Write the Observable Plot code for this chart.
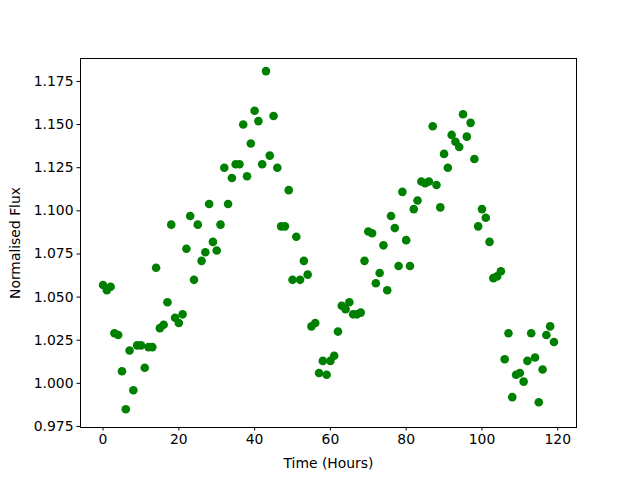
<!DOCTYPE html>
<html>
<head>
<meta charset="utf-8">
<script src="https://cdn.jsdelivr.net/npm/d3@7"></script>
<script src="https://cdn.jsdelivr.net/npm/@observablehq/plot@0.6"></script>
<style>
  html, body { margin: 0; padding: 0; background: white; }
</style>
</head>
<body>
<div id="chart"></div>
<script>
const hours = d3.range(0, 120);
const flux = [
  1.057, 1.054, 1.056, 1.029, 1.028, 1.007, 0.985, 1.019, 0.996, 1.022,
  1.022, 1.009, 1.021, 1.021, 1.067, 1.032, 1.034, 1.047, 1.092, 1.038,
  1.035, 1.040, 1.078, 1.097, 1.060, 1.092, 1.071, 1.076, 1.104, 1.082,
  1.077, 1.092, 1.125, 1.104, 1.119, 1.127, 1.127, 1.150, 1.120, 1.139,
  1.158, 1.152, 1.127, 1.181, 1.132, 1.155, 1.125, 1.091, 1.091, 1.112,
  1.060, 1.085, 1.060, 1.071, 1.063, 1.033, 1.035, 1.006, 1.013, 1.005,
  1.013, 1.016, 1.030, 1.045, 1.043, 1.047, 1.040, 1.040, 1.041, 1.071,
  1.088, 1.087, 1.058, 1.064, 1.080, 1.054, 1.097, 1.090, 1.068, 1.111,
  1.083, 1.068, 1.101, 1.106, 1.117, 1.116, 1.117, 1.149, 1.115, 1.102,
  1.133, 1.125, 1.144, 1.140, 1.137, 1.156, 1.143, 1.151, 1.130, 1.091,
  1.101, 1.096, 1.082, 1.061, 1.062, 1.065, 1.014, 1.029, 0.992, 1.005,
  1.006, 1.001, 1.013, 1.029, 1.015, 0.989, 1.008, 1.028, 1.033, 1.024
];
const xTicks = [0, 20, 40, 60, 80, 100, 120];
const yTicks = [0.975, 1.000, 1.025, 1.050, 1.075, 1.100, 1.125, 1.150, 1.175];

const data = hours.map((h, i) => ({hour: h, flux: flux[i]}));

const chart = Plot.plot({
  width: 640,
  height: 480,
  marginLeft: 80,
  marginRight: 64,
  marginTop: 58,
  marginBottom: 53,
  style: {fontFamily: "DejaVu Sans", fontSize: "13.9px", background: "white", color: "black"},
  x: {domain: [-5.95, 124.95]},
  y: {domain: [0.9744, 1.1883]},
  marks: [
    Plot.axisX({ticks: xTicks, tickSize: 3.5, tickPadding: 3.5, label: "Time (Hours)", labelAnchor: "center", labelArrow: "none", labelOffset: 40, tickFormat: d3.format("d")}),
    Plot.axisY({ticks: yTicks, tickSize: 3.5, tickPadding: 3.5, label: "Normalised Flux", labelAnchor: "center", labelArrow: "none", labelOffset: 70, tickFormat: d3.format(".3f")}),
    Plot.dot(data, {x: "hour", y: "flux", r: 4.3, fill: "#008000", stroke: "none"}),
    Plot.frame({stroke: "black", strokeWidth: 1})
  ]
});
document.getElementById("chart").appendChild(chart);
</script>
</body>
</html>
